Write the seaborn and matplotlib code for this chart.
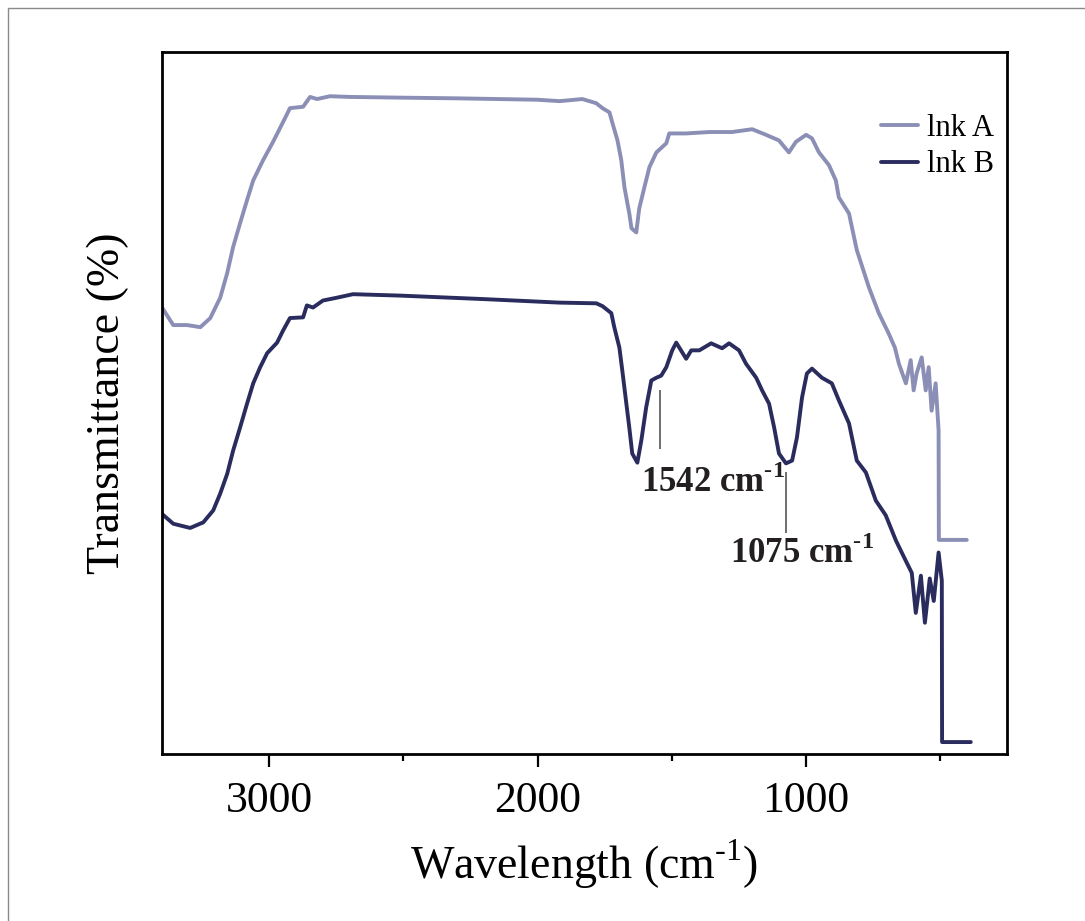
import numpy as np
import pandas as pd
import matplotlib
matplotlib.use("Agg")
import matplotlib.pyplot as plt
from matplotlib.patches import Rectangle
from matplotlib.ticker import MultipleLocator
import seaborn as sns

# widma FTIR (liczba falowa cm-1, transmitancja w skali 0-100)
wn_a = [3400, 3358, 3306, 3257, 3220, 3183, 3157, 3135, 3109, 3083, 3060, 3023, 2986, 2949, 2923,
        2874, 2848, 2822, 2774, 2700, 2513, 2300, 2000, 1918, 1833, 1781, 1758, 1732, 1721, 1702,
        1688, 1676, 1658, 1650, 1632, 1621, 1602, 1583, 1557, 1520, 1509, 1446, 1360, 1275, 1200,
        1148, 1100, 1063, 1037, 999, 977, 951, 914, 888, 877, 839, 810, 765, 728, 691,
        668, 653, 627, 609, 598, 587, 568, 553, 542, 531, 516, 505, 504, 400]
t_a = [63.6, 61.1, 61.1, 60.8, 62.1, 65.0, 68.5, 72.2, 75.6, 78.9, 81.7, 84.6, 87.2, 90.0, 92.0,
       92.2, 93.6, 93.3, 93.7, 93.6, 93.5, 93.4, 93.2, 93.0, 93.3, 92.7, 92.0, 91.4, 89.9, 87.4,
       84.6, 80.7, 77.0, 74.9, 74.3, 77.7, 80.7, 83.6, 85.7, 87.0, 88.4, 88.4, 88.6, 88.6, 89.0,
       88.2, 87.4, 85.7, 87.2, 88.2, 87.7, 85.7, 83.9, 81.7, 79.3, 77.0, 71.8, 66.5, 62.8, 59.9,
       57.9, 55.6, 52.8, 56.1, 51.8, 54.2, 56.5, 51.8, 55.1, 48.9, 52.8, 46.1, 30.5, 30.5]

wn_b = [3400, 3358, 3295, 3246, 3209, 3183, 3157, 3135, 3109, 3083, 3060, 3034, 3008, 2971, 2949,
        2923, 2874, 2860, 2837, 2800, 2748, 2688, 2513, 2200, 1918, 1781, 1758, 1725, 1714, 1695,
        1684, 1669, 1658, 1647, 1628, 1613, 1595, 1576, 1557, 1539, 1520, 1498, 1483, 1446, 1427,
        1397, 1353, 1312, 1286, 1249, 1223, 1185, 1163, 1137, 1118, 1100, 1074, 1051, 1033, 1014,
        996, 977, 940, 903, 877, 839, 810, 776, 739, 702, 664, 627, 605, 590, 571,
        556, 538, 523, 505, 493, 492, 385]
t_b = [34.2, 32.8, 32.2, 33.0, 34.7, 37.1, 39.9, 43.2, 46.5, 49.9, 52.8, 55.1, 57.1, 58.6, 60.3,
       62.1, 62.2, 63.9, 63.6, 64.6, 65.0, 65.5, 65.3, 64.8, 64.3, 64.2, 63.8, 62.8, 60.8, 57.9,
       54.6, 49.9, 46.5, 42.8, 41.5, 44.7, 49.4, 53.2, 53.6, 53.9, 55.1, 57.5, 58.6, 56.3, 57.5,
       57.5, 58.5, 57.8, 58.5, 57.5, 55.6, 53.6, 51.8, 49.9, 46.5, 42.8, 41.4, 41.8, 45.1, 50.8,
       54.2, 54.9, 53.6, 52.8, 50.4, 47.1, 41.8, 40.1, 36.1, 34.0, 30.4, 27.5, 25.8, 20.1, 25.4,
       18.7, 25.0, 21.8, 28.7, 24.7, 1.7, 1.7]

labels = ["lnk A", "lnk B"]
colors = ["#8b8fb6", "#2a2c5e"]

# piki oznaczone na widmie B
peak_wn = [1542, 1075]
peak_line_top = [51.8, 40.1]
peak_line_bottom = [43.5, 31.5]
peak_text_x = [1346, 1015]
peak_text_y = [38.6, 28.5]

df = pd.concat([
    pd.DataFrame({"wn": wn_a, "T": t_a, "sample": labels[0]}),
    pd.DataFrame({"wn": wn_b, "T": t_b, "sample": labels[1]}),
])

sns.set_theme(style="white")
plt.rcParams["font.family"] = ["Liberation Serif", "DejaVu Serif"]
plt.rcParams["mathtext.fontset"] = "custom"
plt.rcParams["mathtext.rm"] = "Liberation Serif"
plt.rcParams["mathtext.bf"] = "Liberation Serif:bold"
plt.rcParams["text.color"] = "black"
plt.rcParams["axes.labelcolor"] = "black"

fig = plt.figure(figsize=(10.85, 9.21), dpi=100)
ax = fig.add_axes([162 / 1085, 1 - 754 / 921, 845 / 1085, 702 / 921])

sns.lineplot(data=df, x="wn", y="T", hue="sample", palette=colors, estimator=None,
             sort=False, lw=2.8, ax=ax)

ax.vlines(peak_wn, peak_line_bottom, peak_line_top, color="#555555", lw=1.2)
for w, tx, ty in zip(peak_wn, peak_text_x, peak_text_y):
    ax.text(tx, ty, f"{w} cm" + r"$^{\mathbf{\text{-}1}}$", ha="center", va="center",
            fontsize=25, fontweight="bold", color="#231f20")

ax.set_xlim(3400, 250)
ax.set_ylim(0, 100)
ax.xaxis.set_major_locator(MultipleLocator(1000))
ax.xaxis.set_minor_locator(MultipleLocator(500))
ax.set_yticks([])
ax.tick_params(axis="x", which="major", direction="out", length=9.5, width=1.6,
               labelsize=31.5, pad=10, bottom=True, colors="black")
ax.tick_params(axis="x", which="minor", direction="out", length=5, width=1.6, bottom=True,
               colors="black")
for sp in ax.spines.values():
    sp.set_color("black")
    sp.set_linewidth(2)

ax.set_xlabel(r"Wavelength (cm$^{\text{-}1}$)", fontsize=33, labelpad=12)
ax.set_ylabel("Transmittance (%)", fontsize=33, labelpad=24)

ax.legend(loc="upper right", bbox_to_anchor=(0.985, 0.912), frameon=False, fontsize=22,
          handlelength=1.2, handletextpad=0.3, labelspacing=0.25, borderpad=0,
          borderaxespad=0)

# cienka ramka wokół całego obrazka
fig.add_artist(Rectangle((8 / 1085, -0.05), 1.1, 1.05 - 8 / 921, transform=fig.transFigure,
                         fill=False, edgecolor="#8a8a8a", lw=1))

fig.savefig("out.png", dpi=100)
